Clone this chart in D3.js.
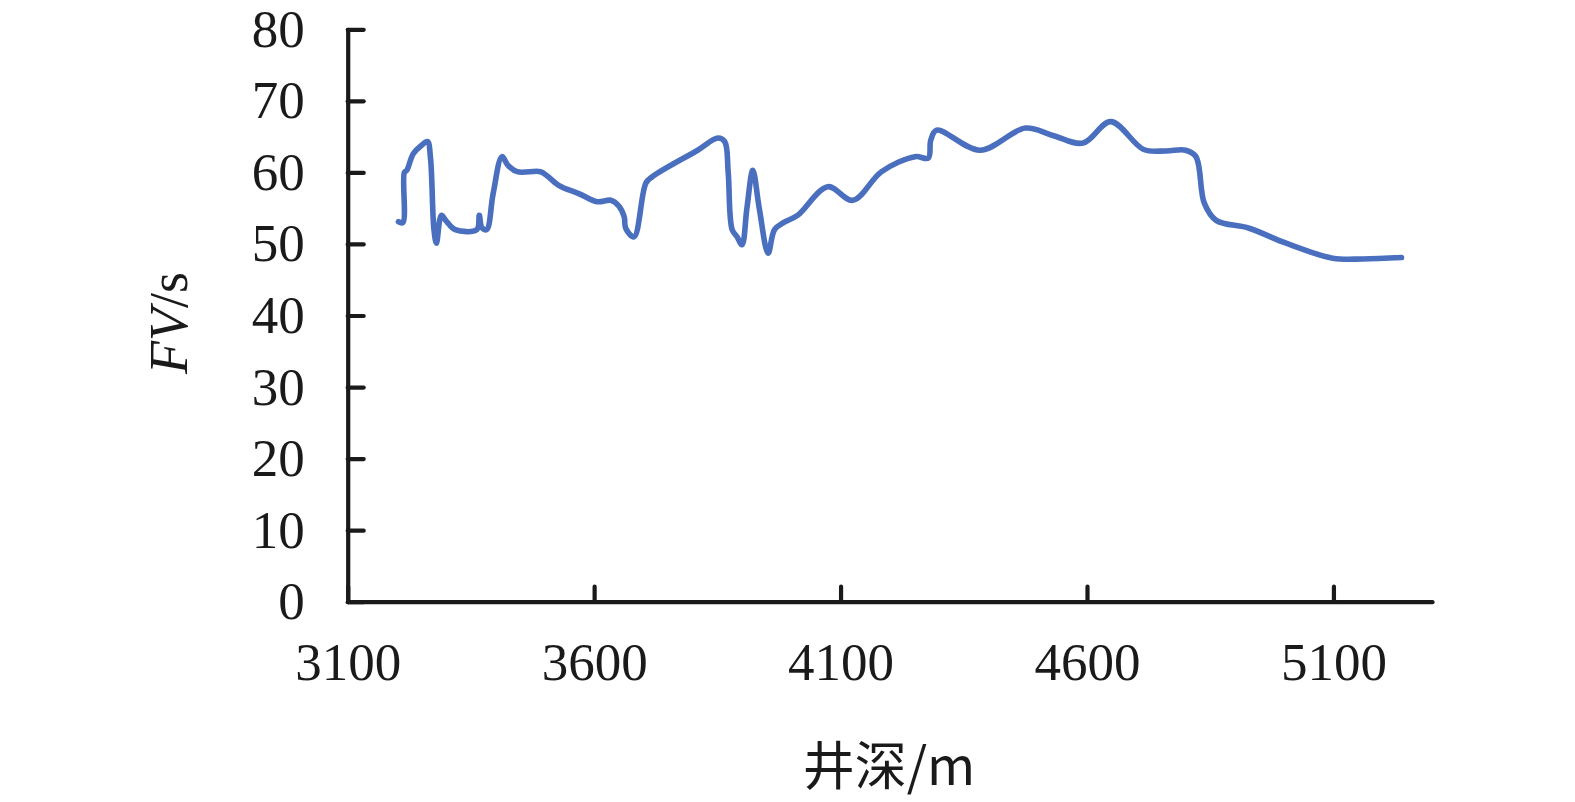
<!DOCTYPE html>
<html>
<head>
<meta charset="utf-8">
<script src="https://cdn.jsdelivr.net/npm/d3@7"></script>
<style>
  html, body { margin: 0; padding: 0; background: #fff; }
  svg { display: block; }
</style>
</head>
<body>
<svg id="chart" width="1575" height="802"></svg>
<script>
// ---- data ----
const depth = [3203,3212,3215,3220,3233,3250,3262,3268,3275,3280,3290,3300,3318,3362,3367,3372,3382,3395,3413,3425,3444,3491,3505,3528,3570,3606,3634,3650,3661,3664,3681,3705,3718,3810,3851,3865,3872,3880,3890,3900,3910,3922,3935,3953,3966,3985,4013,4074,4125,4183,4251,4278,4283,4295,4383,4475,4529,4592,4648,4715,4760,4800,4821,4838,4862,4929,5004,5099,5160,5238];
const fv    = [53.1,53.0,60.0,60.3,62.6,63.8,64.3,62.0,52.0,50.1,54.0,53.2,52.0,52.0,54.0,52.3,52.0,57.0,62.2,61.0,60.1,60.1,59.5,58.2,57.0,55.9,56.1,55.3,53.8,52.2,51.0,58.5,59.4,63.1,64.8,64.3,60.0,52.0,51.0,49.9,55.0,60.3,55.0,48.7,52.0,53.0,54.0,58.0,56.1,60.1,62.2,62.0,64.5,65.9,63.1,66.2,65.2,64.1,67.1,63.2,63.0,63.1,62.2,55.7,53.3,52.2,50.1,48.0,47.9,48.1];
const xTicks = [3100,3600,4100,4600,5100];
const yTicks = [0,10,20,30,40,50,60,70,80];
const xTitle = "井深/m";

// ---- chart ----
const svg = d3.select("#chart");
const x = d3.scaleLinear().domain([3100, 5300]).range([347.7, 1432]);
const y = d3.scaleLinear().domain([0, 80]).range([601.7, 29.3]);
const serif = "'Liberation Serif', 'Times New Roman', 'DejaVu Serif', serif";
const axisColor = "#1a1a1a";

const gx = svg.append("g").attr("transform", `translate(0,${y(0)})`)
  .call(d3.axisBottom(x).tickValues(xTicks).tickFormat(d3.format("d"))
        .tickSizeInner(-15).tickSizeOuter(0).tickPadding(41));
const gy = svg.append("g").attr("transform", `translate(${x(3100)},0)`)
  .call(d3.axisLeft(y).tickValues(yTicks).tickFormat(d3.format("d"))
        .tickSizeInner(-16).tickSizeOuter(0).tickPadding(43));

[gx, gy].forEach(g => {
  g.select(".domain").attr("stroke", axisColor).attr("stroke-width", 4.2).attr("stroke-linecap", "round");
  g.selectAll(".tick line").attr("stroke", axisColor).attr("stroke-width", 4.2).attr("stroke-linecap", "round");
  g.selectAll(".tick text").attr("fill", "#1a1a1a").style("font-family", serif).style("font-size", "53px");
});

// line
const line = d3.line()
  .x((d, i) => x(depth[i]))
  .y((d, i) => y(fv[i]))
  .curve(d3.curveCatmullRom.alpha(0.5));
svg.append("path")
  .datum(fv)
  .attr("d", line)
  .attr("fill", "none")
  .attr("stroke", "#4a6fbf")
  .attr("stroke-width", 5.6)
  .attr("stroke-linecap", "round")
  .attr("stroke-linejoin", "round");

// y title
const yt = svg.append("text")
  .attr("transform", "translate(187,323) rotate(-90)")
  .attr("text-anchor", "middle")
  .style("font-family", serif).style("font-size", "54px").attr("fill", "#1a1a1a");
yt.append("tspan").style("font-style", "italic").text("FV");
yt.append("tspan").text("/s");

// x title
svg.append("text")
  .attr("x", 889).attr("y", 785)
  .attr("text-anchor", "middle")
  .style("font-family", "'Noto Sans CJK SC', " + serif)
  .style("font-size", "52px").attr("fill", "#1a1a1a")
  .text(xTitle);
</script>
</body>
</html>
